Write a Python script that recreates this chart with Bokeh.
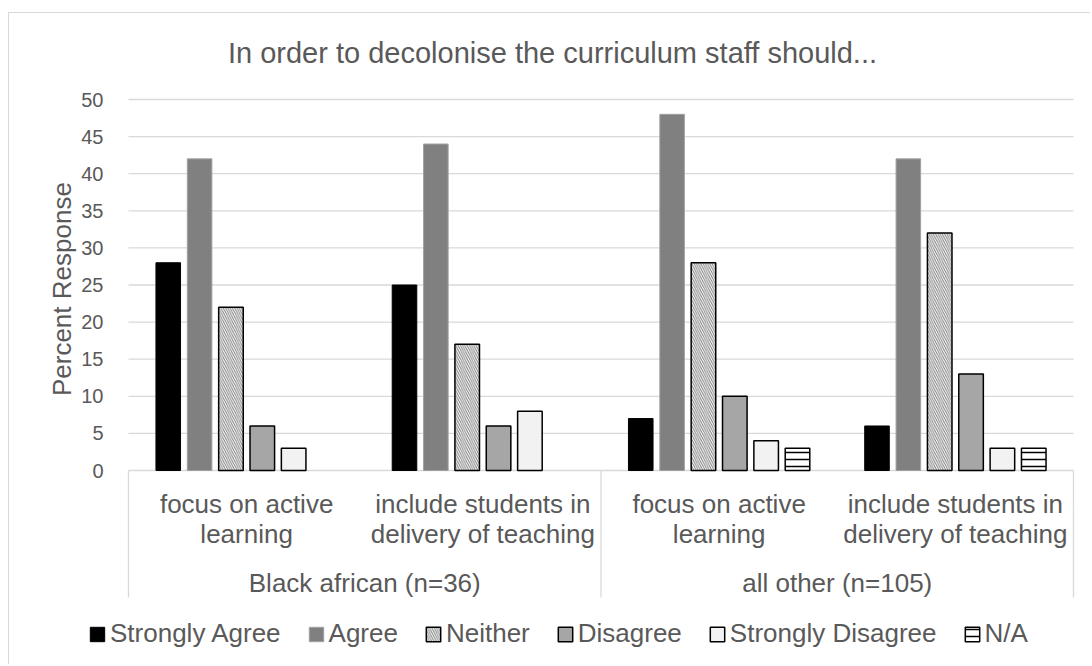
import math
from bokeh.plotting import figure
from bokeh.models import (Range1d, FixedTicker, Label, Legend, LegendItem,
                          ColumnDataSource)
from bokeh.transform import dodge
from bokeh.core.properties import value
from bokeh.embed import file_html
from bokeh.resources import INLINE

# ---------------- data ----------------
title_text = "In order to decolonise the curriculum staff should..."
y_label = "Percent  Response"
groups = ["Black african (n=36)", "all other (n=105)"]
statements = ["focus on active\nlearning", "include students in\ndelivery of teaching"]
series = ["Strongly Agree", "Agree", "Neither", "Disagree", "Strongly Disagree", "N/A"]
strongly_agree = [28, 25, 7, 6]
agree = [42, 44, 48, 42]
neither = [22, 17, 28, 32]
disagree = [6, 6, 10, 13]
strongly_disagree = [3, 8, 4, 3]
not_applicable = [None, None, 3, 3]
y_ticks = [0, 5, 10, 15, 20, 25, 30, 35, 40, 45, 50]

# ---------------- layout constants (canvas px) ----------------
W, H = 1090, 664
frame_left, frame_top, frame_bottom = 30, 14, 660
frame_right = W
area_left, area_right = 128, 1073          # category area (x = 0 .. n_cat)
top50_px, zero_px = 99, 470
y_axis_max = 50

factors = [(g, s) for g in groups for s in statements]
n_cat = len(factors)
px_per_cat = (area_right - area_left) / n_cat
px_per_unit = (zero_px - top50_px) / y_axis_max
x_lo = (frame_left - area_left) / px_per_cat
x_hi = (frame_right - area_left) / px_per_cat
y_max = (zero_px - frame_top) / px_per_unit
y_min = -(frame_bottom - zero_px) / px_per_unit


def y_of(px):
    """canvas pixel row -> data y"""
    return (zero_px - px) / px_per_unit


def x_of(px):
    """canvas pixel column -> data x"""
    return (px - area_left) / px_per_cat


TXT = "#595959"
FONT = "Liberation Sans"
GRID = "#d9d9d9"

values = [strongly_agree, agree, neither, disagree, strongly_disagree, not_applicable]
data = {"xc": [k + 0.5 for k in range(n_cat)]}
for name, vals in zip(series, values):
    data[name] = [float("nan") if v is None else v for v in vals]
src = ColumnDataSource(data)

p = figure(width=W, height=H, output_backend="svg", toolbar_location=None,
           x_range=Range1d(x_lo, x_hi), y_range=Range1d(y_min, y_max),
           x_axis_location=None, title=None,
           min_border_left=frame_left, min_border_right=W - frame_right,
           min_border_top=frame_top, min_border_bottom=H - frame_bottom)
p.outline_line_color = None
p.border_fill_color = None
p.background_fill_color = None
p.grid.visible = False
p.styles = {
    "background": "linear-gradient(#d9d9d9,#d9d9d9) 8px 12px / calc(100% - 8px) 1px no-repeat, "
                  "linear-gradient(#d9d9d9,#d9d9d9) 8px 12px / 1px calc(100% - 12px) no-repeat",
}

# y axis: real axis, drawn at the tick-label edge of the category area
ax = p.yaxis[0]
ax.ticker = FixedTicker(ticks=y_ticks)
ax.bounds = (0, y_axis_max)
ax.fixed_location = x_of(103)
ax.axis_line_color = None
ax.major_tick_line_color = None
ax.minor_tick_line_color = None
ax.major_tick_out = 0
ax.major_tick_in = 0
ax.minor_tick_out = 0
ax.minor_tick_in = 0
ax.major_label_standoff = 0
ax.major_label_text_font = FONT
ax.major_label_text_font_size = "20px"
ax.major_label_text_color = TXT

# horizontal gridlines at the axis ticks, across the category area
p.segment(x0=[0] * len(y_ticks), x1=[n_cat] * len(y_ticks), y0=y_ticks, y1=y_ticks,
          line_color=GRID, line_width=1.3)

# category axis box lines (separators)
sep_bottom = y_of(597)
sep_x = [0, n_cat // 2, n_cat]
p.segment(x0=sep_x, y0=[0] * 3, x1=sep_x, y1=[sep_bottom] * 3,
          line_color=GRID, line_width=1.3)

# bars
n = len(series)
pitch = 0.1327
bar_w = 0.104
styles = [
    dict(fill_color="#000000", line_color="#000000", line_width=1),
    dict(fill_color="#808080", line_color="#a0a0a0", line_width=1),
    dict(fill_color="#ffffff", line_color="#000000", line_width=1.5,
         hatch_pattern="\\", hatch_color="#808080", hatch_scale=4.5, hatch_weight=1),
    dict(fill_color="#a6a6a6", line_color="#000000", line_width=1.5),
    dict(fill_color="#f2f2f2", line_color="#000000", line_width=1.5),
    dict(fill_color="#ffffff", line_color="#000000", line_width=1.5,
         hatch_pattern="-", hatch_color="#000000", hatch_scale=7, hatch_weight=1.5),
]
renderers = []
for i, name in enumerate(series):
    r = p.vbar(x=dodge("xc", (i - (n - 1) / 2) * pitch),
               top=name, bottom=0, width=bar_w, source=src, **styles[i])
    renderers.append(r)

# category labels (two lines)
line1 = [f[1].split("\n")[0] for f in factors]
line2 = [f[1].split("\n")[1] for f in factors]
cat_x = [k + 0.5 for k in range(n_cat)]
for txt, ypx in ((line1, 503), (line2, 533)):
    p.text(x=cat_x, y=[y_of(ypx)] * n_cat, text=txt, text_font=value(FONT),
           text_font_size="26px", text_color=TXT, text_align="center",
           text_baseline="middle")
per_group = n_cat // len(groups)
grp_x = [per_group * g + per_group / 2 for g in range(len(groups))]
p.text(x=grp_x, y=[y_of(582)] * len(groups), text=groups, text_font=value(FONT),
       text_font_size="26px", text_color=TXT, text_align="center",
       text_baseline="middle")

# title
p.add_layout(Label(x=552 - frame_left, y=frame_bottom - 52, x_units="screen",
                   y_units="screen", text=title_text, text_font=FONT,
                   text_font_size="29px", text_color=TXT, text_align="center",
                   text_baseline="middle"))
# y axis title
p.add_layout(Label(x=61 - frame_left, y=frame_bottom - 285, x_units="screen",
                   y_units="screen", text=y_label, text_font=FONT, angle=math.pi / 2,
                   text_font_size="26px", text_color=TXT, text_align="center",
                   text_baseline="middle"))

# legend
legend = Legend(items=[LegendItem(label=s, renderers=[r]) for s, r in zip(series, renderers)],
                orientation="horizontal", location=(88 - frame_left, frame_bottom - 649),
                label_text_font=FONT, label_text_font_size="26px", label_text_color=TXT,
                glyph_width=18, glyph_height=18, label_standoff=4, spacing=26,
                padding=0, margin=0, border_line_color=None,
                background_fill_alpha=0)
p.add_layout(legend)

open("out.html", "w").write(file_html(p, INLINE))
